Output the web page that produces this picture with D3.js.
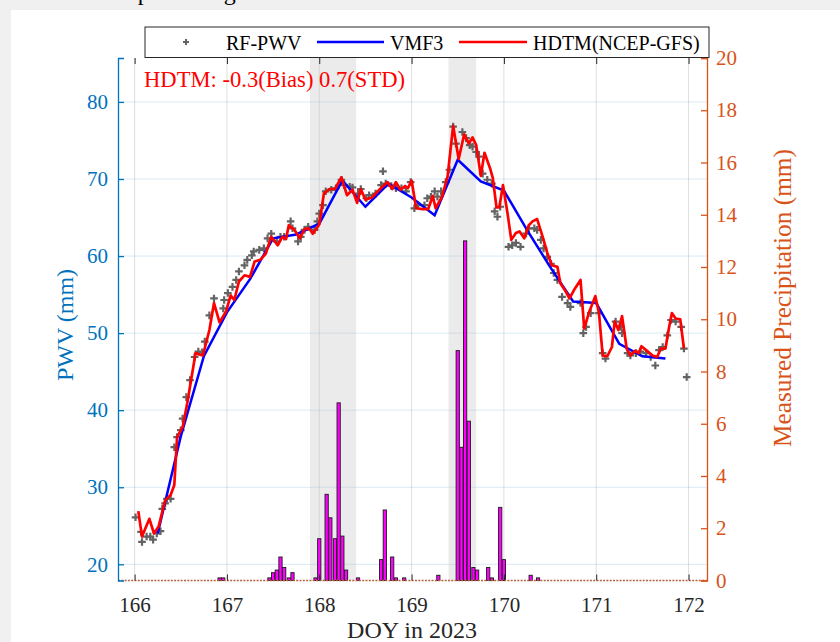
<!DOCTYPE html>
<html>
<head>
<meta charset="utf-8">
<script src="https://cdn.jsdelivr.net/npm/d3@7"></script>
<style>
  body { margin: 0; background: #f0f0f0; }
  text { font-family: "Liberation Serif", "Times New Roman", serif; }
</style>
</head>
<body>
<div id="chart"></div>
<script>
// ---- data ----
var xTicks = [166, 167, 168, 169, 170, 171, 172];
var leftTicks = [20, 30, 40, 50, 60, 70, 80];
var rightTicks = [0, 2, 4, 6, 8, 10, 12, 14, 16, 18, 20];

// rainy periods (shaded), DOY
var bandStart = [167.9, 169.4];
var bandEnd = [168.4, 169.7];

// hourly measured precipitation (mm)
var rainDoy = [166.92, 166.96, 167.46, 167.50, 167.54, 167.58, 167.62, 167.67, 167.71,
  167.96, 168.00, 168.08, 168.12, 168.17, 168.21, 168.25, 168.29, 168.42,
  168.67, 168.71, 168.79, 168.83, 168.92, 169.29,
  169.50, 169.54, 169.58, 169.62, 169.67, 169.71, 169.83, 169.87, 169.96, 170.00,
  170.29, 170.37];
var rainMm = [0.1, 0.1, 0.1, 0.3, 0.4, 0.9, 0.5, 0.1, 0.3,
  0.1, 1.6, 3.3, 2.4, 1.6, 6.8, 1.7, 0.4, 0.1,
  0.8, 2.7, 0.9, 0.1, 0.1, 0.2,
  8.8, 5.1, 13.0, 6.1, 0.5, 0.4, 0.5, 0.1, 2.8, 0.8,
  0.2, 0.1];

// VMF3 (6-hourly)
var vmfDoy = [166.25, 166.5, 166.75, 167.0, 167.25, 167.5, 167.75, 168.0, 168.25, 168.5,
  168.75, 169.0, 169.25, 169.5, 169.75, 170.0, 170.25, 170.5, 170.75, 171.0, 171.25, 171.5, 171.75];
var vmfPwv = [24.0, 36.6, 47.0, 52.7, 57.0, 62.3, 62.8, 64.2, 69.8, 66.4,
  69.4, 67.6, 65.3, 72.5, 69.7, 68.5, 63.4, 58.6, 54.1, 53.9, 48.6, 47.0, 46.7];

// HDTM (NCEP-GFS)
var hdtmDoy = [166.04, 166.08, 166.16, 166.21, 166.26, 166.33, 166.39, 166.43, 166.46, 166.52,
  166.57, 166.66, 166.74, 166.81, 166.86, 166.92, 166.99, 167.04, 167.08, 167.13,
  167.19, 167.25, 167.30, 167.36, 167.42, 167.48, 167.55, 167.60, 167.64, 167.67,
  167.73, 167.79, 167.84, 167.89, 167.93, 168.00, 168.05, 168.11, 168.17, 168.24,
  168.30, 168.36, 168.41, 168.45, 168.50, 168.57, 168.65, 168.74, 168.79, 168.83,
  168.88, 168.93, 168.96, 169.00, 169.05, 169.12, 169.18, 169.23, 169.26, 169.33,
  169.39, 169.45, 169.51, 169.57, 169.62, 169.66, 169.70, 169.75, 169.79, 169.85,
  169.88, 169.92, 169.95, 169.99, 170.04, 170.08, 170.13, 170.17, 170.22, 170.27,
  170.31, 170.36, 170.42, 170.47, 170.52, 170.58, 170.61, 170.67, 170.71, 170.77,
  170.83, 170.87, 170.92, 170.99, 171.03, 171.07, 171.12, 171.17, 171.20, 171.24,
  171.28, 171.33, 171.37, 171.42, 171.46, 171.49, 171.55, 171.61, 171.66, 171.70,
  171.75, 171.79, 171.82, 171.86, 171.91, 171.95];
var hdtmPwv = [26.9, 23.6, 25.9, 24.0, 24.9, 28.3, 29.0, 30.3, 36.5, 37.8,
  40.9, 47.4, 47.1, 50.4, 53.9, 51.4, 52.8, 54.9, 54.3, 56.7,
  57.5, 57.3, 59.3, 59.5, 60.3, 62.5, 61.4, 62.5, 62.2, 64.0,
  63.4, 62.3, 63.5, 63.6, 62.9, 64.1, 68.1, 68.7, 68.7, 70.2,
  67.9, 68.6, 66.9, 68.7, 67.3, 67.6, 68.6, 69.6, 68.7, 69.6,
  68.6, 69.1, 68.8, 69.8, 66.2, 66.1, 66.1, 67.8, 66.2, 67.7,
  70.3, 76.9, 72.6, 75.8, 74.6, 75.4, 74.4, 70.4, 73.4, 71.4,
  70.1, 66.3, 66.3, 69.2, 65.5, 62.1, 63.0, 63.2, 62.3, 64.0,
  64.5, 64.8, 62.5, 60.4, 58.8, 58.6, 56.5, 55.4, 54.5, 55.8,
  56.9, 50.6, 52.6, 54.8, 52.6, 47.1, 47.0, 48.2, 51.5, 50.4,
  52.2, 48.0, 47.1, 47.7, 47.4, 48.3, 47.7, 47.1, 46.9, 48.0,
  48.0, 50.8, 52.6, 51.9, 51.8, 48.0];

// RF-PWV
var rfDoy = [166.01, 166.07, 166.08, 166.13, 166.17, 166.20, 166.24, 166.28, 166.30, 166.33,
  166.35, 166.39, 166.43, 166.46, 166.50, 166.52, 166.56, 166.60, 166.65, 166.69,
  166.73, 166.76, 166.81, 166.86, 166.96, 166.97, 167.01, 167.06, 167.10, 167.13,
  167.19, 167.22, 167.27, 167.29, 167.35, 167.40, 167.44, 167.48, 167.54, 167.58,
  167.62, 167.69, 167.71, 167.77, 167.80, 167.84, 167.88, 167.95, 167.98, 168.00,
  168.04, 168.07, 168.13, 168.18, 168.24, 168.27, 168.33, 168.36, 168.42, 168.45,
  168.51, 168.54, 168.61, 168.67, 168.69, 168.72, 168.78, 168.83, 168.89, 168.94,
  168.99, 169.03, 169.07, 169.14, 169.17, 169.21, 169.25, 169.28, 169.32, 169.37,
  169.41, 169.45, 169.48, 169.55, 169.59, 169.63, 169.66, 169.70, 169.73, 169.77,
  169.82, 169.87, 169.90, 169.93, 169.96, 170.05, 170.09, 170.13, 170.18, 170.24,
  170.27, 170.33, 170.36, 170.40, 170.43, 170.47, 170.51, 170.54, 170.58, 170.63,
  170.69, 170.72, 170.83, 170.86, 170.89, 170.94, 171.03, 171.07, 171.10, 171.21,
  171.27, 171.28, 171.34, 171.37, 171.43, 171.48, 171.54, 171.59, 171.64, 171.68,
  171.72, 171.77, 171.81, 171.86, 171.92, 171.95, 171.98];
var rfPwv = [26.1, 24.2, 22.9, 23.6, 23.6, 23.2, 24.0, 24.3, 27.2, 27.9,
  28.5, 28.5, 35.2, 36.5, 37.4, 38.9, 41.7, 43.9, 46.9, 47.6,
  47.5, 48.9, 52.3, 54.5, 53.2, 54.3, 55.2, 56.0, 56.9, 58.0,
  58.8, 59.5, 60.1, 60.6, 60.8, 61.0, 62.3, 62.9, 61.9, 62.5,
  62.5, 64.5, 63.6, 61.9, 62.5, 63.4, 63.8, 63.4, 64.5, 65.5,
  66.6, 68.4, 68.6, 68.8, 69.9, 69.2, 69.0, 68.9, 68.1, 68.7,
  67.5, 67.9, 68.1, 69.2, 71.0, 69.4, 69.1, 68.8, 68.8, 68.4,
  69.6, 66.2, 66.6, 66.6, 67.5, 67.7, 68.4, 67.7, 68.4, 69.6,
  71.2, 76.8, 74.6, 76.1, 75.3, 74.4, 74.2, 73.5, 72.9, 70.7,
  69.9, 69.4, 65.8, 65.1, 66.4, 61.2, 61.4, 61.7, 61.2, 62.9,
  63.6, 63.6, 63.4, 62.1, 61.0, 59.9, 59.0, 57.8, 56.9, 54.7,
  53.9, 53.4, 53.9, 50.0, 50.8, 52.6, 52.6, 47.4, 46.7, 51.5,
  50.8, 50.0, 47.4, 47.1, 47.4, 47.6, 47.4, 46.9, 45.8, 47.8,
  48.2, 49.7, 51.7, 51.5, 50.8, 48.0, 44.3];

// ---- layout ----
var svgWidth = 840;
var svgHeight = 642;
var plot = { left: 118, right: 707, top: 58, bottom: 580.5 };
var leftColor = "#0072BD";
var rightColor = "#D95319";

var svg = d3.select("#chart")
  .append("svg")
  .attr("width", svgWidth)
  .attr("height", svgHeight);

svg.append("rect").attr("width", svgWidth).attr("height", svgHeight).attr("fill", "#f0f0f0");
svg.append("rect").attr("x", 11).attr("y", 10)
  .attr("width", svgWidth - 11).attr("height", svgHeight - 10).attr("fill", "#ffffff");

// title, cut off by the top of the frame (only descenders show)
svg.append("text")
  .attr("x", 95).attr("y", 0)
  .attr("font-size", 24)
  .attr("fill", "#000")
  .text("Sample during rainfall");

var xScale = d3.scaleLinear().domain([165.82, 172.2]).range([plot.left, plot.right]);
var yLeft = d3.scaleLinear().domain([17.9, 85.7]).range([plot.bottom, plot.top]);
var yRight = d3.scaleLinear().domain([0, 20]).range([plot.bottom, plot.top]);

// grid
svg.append("g").selectAll("line")
  .data(xTicks)
  .enter()
  .append("line")
  .attr("x1", d => xScale(d)).attr("x2", d => xScale(d))
  .attr("y1", plot.top).attr("y2", plot.bottom)
  .attr("stroke", "#262626").attr("stroke-opacity", 0.15);

svg.append("g").selectAll("line")
  .data(leftTicks)
  .enter()
  .append("line")
  .attr("x1", plot.left).attr("x2", plot.right)
  .attr("y1", d => yLeft(d)).attr("y2", d => yLeft(d))
  .attr("stroke", leftColor).attr("stroke-opacity", 0.15);

// shaded rain periods
svg.append("g").selectAll("rect")
  .data(bandStart)
  .enter()
  .append("rect")
  .attr("x", d => xScale(d))
  .attr("width", (d, i) => xScale(bandEnd[i]) - xScale(d))
  .attr("y", plot.top)
  .attr("height", plot.bottom - plot.top)
  .attr("fill", "#bdbdbd")
  .attr("fill-opacity", 0.3);

// precipitation bars
var hourW = xScale(165.82 + 1 / 24) - xScale(165.82);
svg.append("g").selectAll("rect")
  .data(rainDoy)
  .enter()
  .append("rect")
  .attr("x", d => xScale(d) - hourW / 2 + 0.3)
  .attr("width", hourW - 0.6)
  .attr("y", (d, i) => yRight(rainMm[i]))
  .attr("height", (d, i) => yRight(0) - yRight(rainMm[i]))
  .attr("fill", "#ff00ff")
  .attr("stroke", "#1a1a1a")
  .attr("stroke-width", 0.9);

// zero-height bars along the base
svg.append("line")
  .attr("x1", plot.left).attr("x2", plot.right)
  .attr("y1", yRight(0)).attr("y2", yRight(0))
  .attr("stroke", "#b5603e")
  .attr("stroke-width", 1.6)
  .attr("stroke-dasharray", "2,1.3");

// RF-PWV markers
svg.append("g").selectAll("path")
  .data(rfDoy)
  .enter()
  .append("path")
  .attr("d", "M-3.8,0H3.8M0,-3.8V3.8")
  .attr("transform", (d, i) => `translate(${xScale(d)},${yLeft(rfPwv[i])})`)
  .attr("stroke", "#636363")
  .attr("stroke-width", 2.2);

var vmfLine = d3.line()
  .x((d, i) => xScale(vmfDoy[i]))
  .y(d => yLeft(d));
svg.append("path")
  .datum(vmfPwv)
  .attr("d", vmfLine)
  .attr("fill", "none")
  .attr("stroke", "#0000ff")
  .attr("stroke-width", 2.5);

var hdtmLine = d3.line()
  .x((d, i) => xScale(hdtmDoy[i]))
  .y(d => yLeft(d));
svg.append("path")
  .datum(hdtmPwv)
  .attr("d", hdtmLine)
  .attr("fill", "none")
  .attr("stroke", "#ff0000")
  .attr("stroke-width", 2.7)
  .attr("stroke-linejoin", "round");

// axes
var bottomAxis = svg.append("g")
  .attr("transform", `translate(0, ${plot.bottom})`)
  .call(d3.axisBottom(xScale).tickValues(xTicks).tickSize(-6).tickPadding(17).tickFormat(d3.format("d")));
bottomAxis.select(".domain").remove();
bottomAxis.selectAll("line").attr("stroke", "#262626");
bottomAxis.selectAll("text").attr("font-size", 21).attr("fill", "#262626")
  .attr("font-family", "Liberation Serif");

var topAxis = svg.append("g")
  .attr("transform", `translate(0, ${plot.top})`)
  .call(d3.axisTop(xScale).tickValues(xTicks).tickSize(-6).tickFormat(""));
topAxis.select(".domain").remove();
topAxis.selectAll("line").attr("stroke", "#262626");

var leftAxis = svg.append("g")
  .attr("transform", `translate(${plot.left}, 0)`)
  .call(d3.axisLeft(yLeft).tickValues(leftTicks).tickSize(-6).tickPadding(10));
leftAxis.select(".domain").attr("stroke", leftColor).attr("stroke-width", 1.3);
leftAxis.selectAll("line").attr("stroke", leftColor).attr("stroke-width", 1.3);
leftAxis.selectAll("text").attr("font-size", 21).attr("fill", leftColor)
  .attr("font-family", "Liberation Serif");

var rightAxis = svg.append("g")
  .attr("transform", `translate(${plot.right}, 0)`)
  .call(d3.axisRight(yRight).tickValues(rightTicks).tickSize(-6).tickPadding(9));
rightAxis.select(".domain").attr("stroke", rightColor).attr("stroke-width", 1.3);
rightAxis.selectAll("line").attr("stroke", rightColor).attr("stroke-width", 1.3);
rightAxis.selectAll("text").attr("font-size", 21).attr("fill", rightColor)
  .attr("font-family", "Liberation Serif");

// axis labels
svg.append("text")
  .attr("transform", "translate(73, 325) rotate(-90)")
  .attr("text-anchor", "middle")
  .attr("font-size", 24)
  .attr("fill", leftColor)
  .text("PWV (mm)");

svg.append("text")
  .attr("transform", "translate(791, 298) rotate(-90)")
  .attr("text-anchor", "middle")
  .attr("font-size", 25.3)
  .attr("fill", rightColor)
  .text("Measured Precipitation (mm)");

svg.append("text")
  .attr("x", 412).attr("y", 638)
  .attr("text-anchor", "middle")
  .attr("font-size", 24)
  .attr("fill", "#262626")
  .text("DOY in 2023");

// statistics note
svg.append("text")
  .attr("x", 144).attr("y", 87)
  .attr("font-size", 22.6)
  .attr("fill", "#ff0000")
  .text("HDTM: -0.3(Bias) 0.7(STD)");

// legend
var legend = svg.append("g");
legend.append("rect")
  .attr("x", 145).attr("y", 27).attr("width", 564).attr("height", 30.5)
  .attr("fill", "#ffffff").attr("stroke", "#262626").attr("stroke-width", 1);
legend.append("path")
  .attr("d", "M-3,0H3M0,-3V3")
  .attr("transform", "translate(186, 42)")
  .attr("stroke", "#636363").attr("stroke-width", 2);
legend.append("text").attr("x", 226).attr("y", 49.5).attr("font-size", 20).text("RF-PWV");
legend.append("line").attr("x1", 317).attr("x2", 384).attr("y1", 42).attr("y2", 42)
  .attr("stroke", "#0000ff").attr("stroke-width", 2.5);
legend.append("text").attr("x", 390).attr("y", 49.5).attr("font-size", 20).text("VMF3");
legend.append("line").attr("x1", 459).attr("x2", 527).attr("y1", 42).attr("y2", 42)
  .attr("stroke", "#ff0000").attr("stroke-width", 2.7);
legend.append("text").attr("x", 533).attr("y", 49.5).attr("font-size", 20).text("HDTM(NCEP-GFS)");
</script>
</body>
</html>
